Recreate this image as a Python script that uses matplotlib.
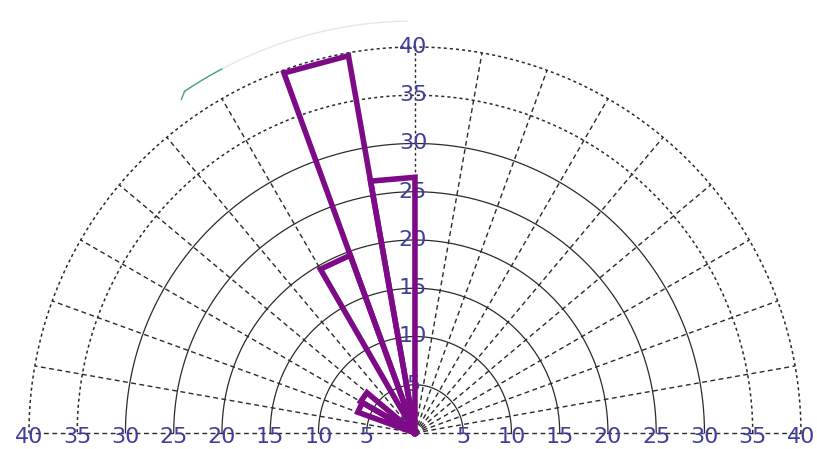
import numpy as np
import matplotlib
matplotlib.use("Agg")
import matplotlib.pyplot as plt

# Rose histogram: bin start angles (degrees), bin width and counts per bin
bin_starts = [90, 100, 110, 140, 150]
bin_width = 10
counts = [26.5, 39.7, 19.6, 6.5, 6.3]

# Polar grid definition
ring_values = [5, 10, 15, 20, 25, 30, 35, 40]
spoke_angles = list(range(0, 181, 10))
r_max = 40

purple = "#7d0a86"
grid_dark = "#2b2b2b"
label_color = "#40409a"


def to_xy(theta_deg, r):
    """Polar (degrees, radius) to Cartesian data coordinates."""
    t = np.radians(np.asarray(theta_deg, dtype=float))
    r = np.asarray(r, dtype=float)
    return r * np.cos(t), r * np.sin(t)


fig = plt.figure(figsize=(8.17, 4.49), dpi=100)
ax = fig.add_axes([0, 0, 1, 1])
ax.set_xlim(-43.0, 41.66)
ax.set_ylim(-1.66, 44.87)
ax.axis("off")

# concentric rings
arc_deg = np.linspace(0, 180, 721)
for r in ring_values:
    x, y = to_xy(arc_deg, np.full_like(arc_deg, r))
    if r <= 30:
        ax.plot(x, y, color=grid_dark, lw=0.9, zorder=1)
    else:
        ax.plot(x, y, color=grid_dark, lw=1.1, linestyle=(0, (2, 2)), zorder=1)

# radial spokes
for a in spoke_angles:
    x, y = to_xy([a, a], [0, r_max])
    style = (0, (2, 2)) if a == 90 else (0, (3.5, 2.5))
    ax.plot(x, y, color=grid_dark, lw=1.0, linestyle=style, zorder=1)

# faint outer arc
fa = np.linspace(91, 124, 200)
x, y = to_xy(fa, np.full_like(fa, 42.7))
ax.plot(x, y, color="#e3e8e8", lw=1.0, zorder=1)
fa2 = np.linspace(118, 124, 60)
x, y = to_xy(fa2, np.full_like(fa2, 42.7))
ax.plot(x, y, color="#4a9f92", lw=1.0, zorder=1)
x, y = to_xy([124, 125.0], [42.7, 42.2])
ax.plot(x, y, color="#4a9f92", lw=1.0, zorder=1)

# ring labels along the baseline and the vertical axis
font = dict(family="DejaVu Sans", fontsize=16, color=label_color,
            ha="center", va="center", zorder=2)
for r in ring_values:
    for a in (0, 180):
        x, y = to_xy(a, r)
        ax.text(float(x), float(y) - 0.4, str(r), **font)
    x, y = to_xy(90, r)
    ax.text(float(x) - 0.2, float(y), str(r), **font)

# rose bars: closed triangles from the origin
for start, c in zip(bin_starts, counts):
    x, y = to_xy([start, start, start + bin_width, start + bin_width], [0, c, c, 0])
    ax.plot(x, y, color=purple, lw=4.0, solid_joinstyle="miter", zorder=3)

fig.savefig("out.png", dpi=100)
